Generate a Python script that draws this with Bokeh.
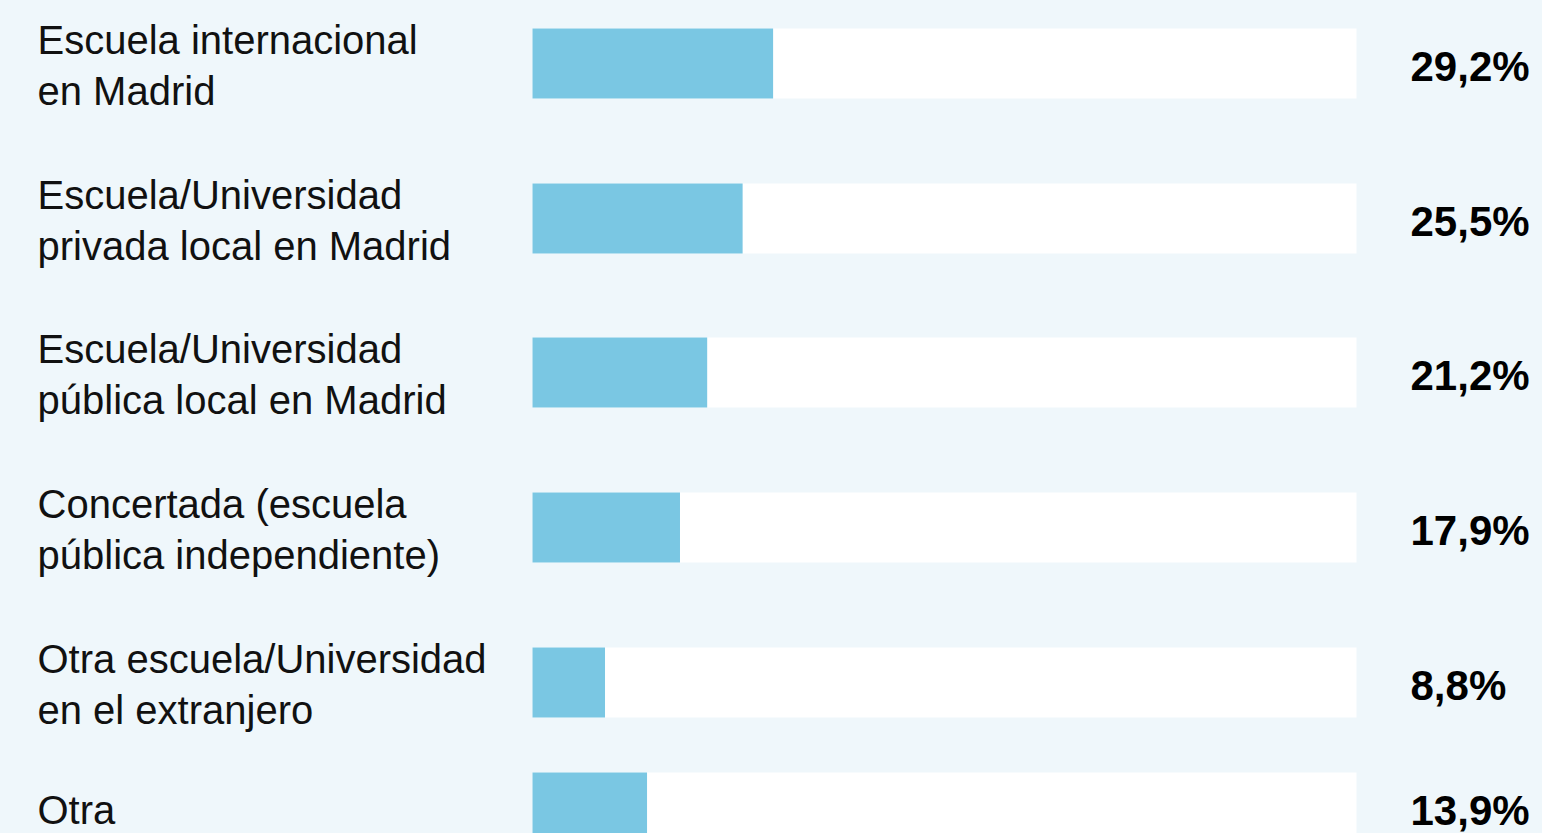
from bokeh.plotting import figure
from bokeh.models import Range1d, ColumnDataSource
from bokeh.core.properties import value
from bokeh.embed import file_html
from bokeh.resources import INLINE

# ---- data ----
categories = [
    "Escuela internacional\nen Madrid",
    "Escuela/Universidad\nprivada local en Madrid",
    "Escuela/Universidad\npública local en Madrid",
    "Concertada (escuela\npública independiente)",
    "Otra escuela/Universidad\nen el extranjero",
    "Otra",
]
values = [29.2, 25.5, 21.2, 17.9, 8.8, 13.9]
value_labels = ["29,2%", "25,5%", "21,2%", "17,9%", "8,8%", "13,9%"]
track_max = 100

# ---- layout (screen pixels) ----
row_y = [63, 218, 372, 527, 682, 807]
BAR_X0 = 532
PX_PER_PCT = 8.24
LABEL_X = 37
VALUE_X = 1410
W, H = 1542, 833
BG = "#eff7fb"
BLUE = "#7ac7e3"

def to_data_x(px):
    return (px - BAR_X0) / PX_PER_PCT

n = len(values)
src = ColumnDataSource(dict(
    y=row_y,
    val=values,
    track=[track_max] * n,
    zero=[0] * n,
    cat=categories,
    vlab=value_labels,
    lx=[to_data_x(LABEL_X)] * n,
    vx=[to_data_x(VALUE_X)] * n,
))

p = figure(
    width=W, height=H,
    x_range=Range1d(to_data_x(0), to_data_x(W)),
    y_range=Range1d(H, 0),
    output_backend="svg", toolbar_location=None,
    min_border=0, min_border_left=0, min_border_right=0,
    min_border_top=0, min_border_bottom=0,
)
p.background_fill_color = BG
p.border_fill_color = BG
p.outline_line_color = None
p.axis.visible = False
p.grid.visible = False

p.hbar(y="y", left="zero", right="track", height=70, source=src,
       fill_color="white", line_color=None)
p.hbar(y="y", left="zero", right="val", height=70, source=src,
       fill_color=BLUE, line_color=None)

p.text(x="lx", y="y", text="cat", source=src,
       text_font=value("Liberation Sans"), text_font_size="40px",
       text_color="#111111", text_align="left", text_baseline="middle",
       text_line_height=1.17, y_offset=2)

p.text(x="vx", y="y", text="vlab", source=src,
       text_font=value("Liberation Sans"), text_font_size="42px",
       text_font_style="bold", text_color="#000000",
       text_align="left", text_baseline="middle", y_offset=3)

html = file_html(p, INLINE, title="Tipo de escuela")
html = html.replace(
    "</head>",
    "<style>html,body{margin:0;padding:0;overflow:hidden;background:%s;}</style></head>" % BG,
)
open("out.html", "w").write(html)
